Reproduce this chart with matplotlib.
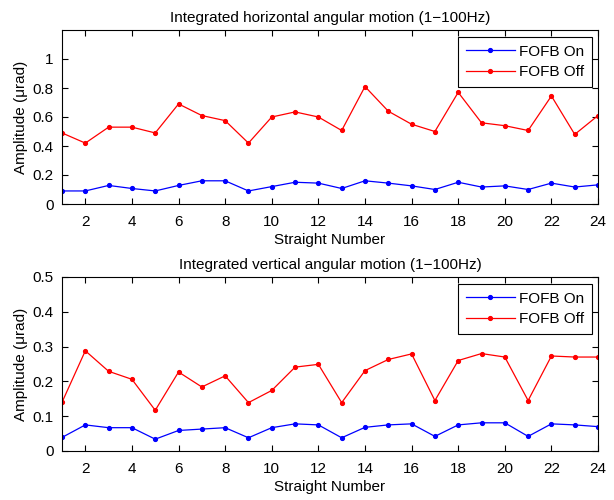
import matplotlib
matplotlib.use("Agg")
import matplotlib.pyplot as plt

plt.rcParams['font.family'] = ['Liberation Sans', 'DejaVu Sans']

straights = list(range(1, 25))

# horizontal (1-100Hz), urad
h_on = [0.09, 0.09, 0.128, 0.107, 0.09, 0.128, 0.16, 0.16, 0.09, 0.12, 0.15, 0.144,
        0.107, 0.16, 0.144, 0.125, 0.10, 0.15, 0.117, 0.125, 0.10, 0.144, 0.117, 0.132]
h_off = [0.49, 0.42, 0.53, 0.53, 0.49, 0.69, 0.61, 0.575, 0.42, 0.60, 0.635, 0.60,
         0.507, 0.81, 0.64, 0.55, 0.50, 0.77, 0.56, 0.54, 0.507, 0.745, 0.48, 0.61]

# vertical (1-100Hz), urad
v_on = [0.039, 0.075, 0.067, 0.067, 0.034, 0.059, 0.063, 0.067, 0.038, 0.067, 0.078, 0.075,
        0.038, 0.068, 0.075, 0.078, 0.042, 0.075, 0.081, 0.081, 0.042, 0.078, 0.075, 0.070]
v_off = [0.14, 0.288, 0.229, 0.206, 0.117, 0.227, 0.184, 0.216, 0.139, 0.174, 0.241, 0.249,
         0.139, 0.231, 0.263, 0.279, 0.145, 0.26, 0.28, 0.27, 0.145, 0.273, 0.27, 0.27]

fig = plt.figure(figsize=(6.14, 5.0), dpi=100)
ax1 = fig.add_axes([0.101, 0.592, 0.873, 0.348])
ax2 = fig.add_axes([0.101, 0.098, 0.873, 0.348])


def style(ax, on, off, title, ymax, yticks):
    ax.plot(straights, on, '-', color='blue', marker='.', markersize=5.5, lw=0.9, label='FOFB On')
    ax.plot(straights, off, '-', color='red', marker='.', markersize=5.5, lw=0.9, label='FOFB Off')
    ax.set_xlim(1, 24)
    ax.set_ylim(0, ymax)
    ax.set_xticks(range(2, 25, 2))
    ax.set_yticks(yticks)
    ax.set_yticklabels(['%g' % t for t in yticks])
    ax.tick_params(direction='in', top=True, right=True, labelsize=11, length=4)
    ax.tick_params(axis='x', pad=8)
    ax.tick_params(axis='y', pad=6)
    ax.set_title(title, fontsize=11, pad=6)
    ax.set_xlabel('Straight Number', fontsize=11, labelpad=3)
    ax.set_ylabel('Amplitude (\u03bcrad)', fontsize=11, labelpad=3)
    leg = ax.legend(loc='upper right', bbox_to_anchor=(0.989, 0.96), borderaxespad=0,
                    fancybox=False, framealpha=1, edgecolor='black', fontsize=11,
                    borderpad=0.5, handlelength=3.2, handletextpad=0.3, labelspacing=0.45)
    leg.get_frame().set_linewidth(0.8)


style(ax1, h_on, h_off, 'Integrated horizontal angular motion (1\u2212100Hz)', 1.2,
      [0, 0.2, 0.4, 0.6, 0.8, 1])
style(ax2, v_on, v_off, 'Integrated vertical angular motion (1\u2212100Hz)', 0.5,
      [0, 0.1, 0.2, 0.3, 0.4, 0.5])

fig.savefig('out.png', dpi=100)
